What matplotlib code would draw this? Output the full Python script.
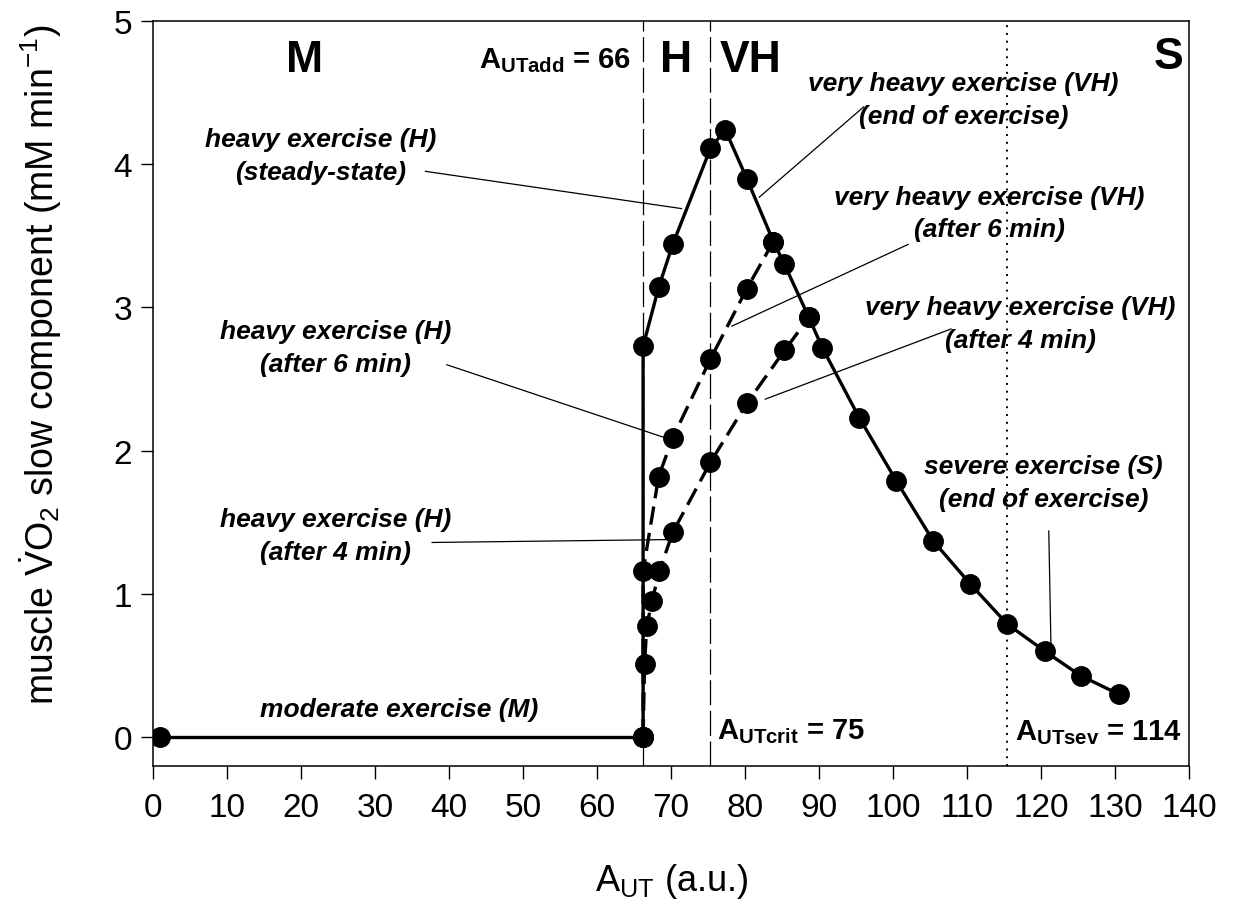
import matplotlib
matplotlib.use("Agg")
import matplotlib.pyplot as plt

plt.rcParams['font.family'] = ['Liberation Sans', 'DejaVu Sans']
plt.rcParams['mathtext.fontset'] = 'custom'
plt.rcParams['mathtext.rm'] = 'Liberation Sans'
plt.rcParams['mathtext.it'] = 'Liberation Sans:italic'
plt.rcParams['mathtext.bf'] = 'Liberation Sans:bold'

# ---- data ----
moderate_x = [1, 66.2]
moderate_y = [0, 0]

steady_x = [66.2, 66.2, 68.3, 70.2, 75.3, 77.3, 80.2, 83.8, 85.3, 88.6, 90.4,
            95.4, 100.4, 105.4, 110.4, 115.4, 120.5, 125.3, 130.5]
steady_y = [0, 2.73, 3.14, 3.44, 4.11, 4.24, 3.90, 3.46, 3.30, 2.93, 2.72,
            2.23, 1.79, 1.37, 1.07, 0.79, 0.60, 0.43, 0.30]

after6_x = [66.2, 66.2, 68.3, 70.2, 75.3, 80.2, 83.8]
after6_y = [0, 1.16, 1.82, 2.09, 2.64, 3.13, 3.46]

after4_x = [66.2, 66.4, 66.7, 67.4, 68.4, 70.2, 75.3, 80.2, 85.3, 88.6]
after4_y = [0, 0.51, 0.78, 0.95, 1.16, 1.43, 1.92, 2.33, 2.70, 2.93]

thresholds_x = [66.2, 75.3, 115.3]
x_ticks = list(range(0, 141, 10))
y_ticks = [0, 1, 2, 3, 4, 5]

fig = plt.figure(figsize=(12.39, 9.12), dpi=100)
ax = fig.add_axes([0.1235, 0.159, 0.8365, 0.817])
ax.set_xlim(0, 140)
ax.set_ylim(-0.2, 5)

ax.axvline(thresholds_x[0], color='black', lw=0.9, ls=(0, (20, 4.5)))
ax.axvline(thresholds_x[1], color='black', lw=0.9, ls=(0, (20, 4.5)))
ax.axvline(thresholds_x[2], color='black', lw=1.4, ls=(0, (1, 3)))

ms = 14
ax.plot(moderate_x, moderate_y, color='black', lw=2.4, marker='o', ms=ms)
ax.plot(steady_x, steady_y, color='black', lw=2.4, marker='o', ms=ms)
ax.plot(after6_x, after6_y, color='black', lw=2.4, marker='o', ms=ms, ls=(0, (5.5, 2.5)))
ax.plot(after4_x, after4_y, color='black', lw=2.4, marker='o', ms=ms, ls=(0, (5.5, 2.5)))

ax.set_xticks(x_ticks)
ax.set_yticks(y_ticks)
ax.tick_params(direction='out', length=9, width=1, labelsize=24)
ax.tick_params(axis='x', pad=10)
ax.tick_params(axis='y', pad=6)
for s in ax.spines.values():
    s.set_linewidth(1.1)

ax.set_xlabel(r'A$_{\mathrm{UT}}$ (a.u.)', fontsize=26)
ax.xaxis.set_label_coords(0.5, -0.128)
ax.set_ylabel(r'muscle $\dot{\mathrm{V}}\mathrm{O}_2$ slow component (mM min$^{-1}$)',
              fontsize=27)
ax.yaxis.set_label_coords(-0.086, 0.54)

bold = dict(fontweight='bold', color='black')
ax.text(20.5, 4.73, 'M', fontsize=32, ha='center', va='center', **bold)
ax.text(70.6, 4.73, 'H', fontsize=32, ha='center', va='center', **bold)
ax.text(80.7, 4.73, 'VH', fontsize=32, ha='center', va='center', **bold)
ax.text(137.2, 4.75, 'S', fontsize=32, ha='center', va='center', **bold)
ax.text(64.6, 4.73, r'A$_{\mathbf{UTadd}}$ = 66', fontsize=21, ha='right', va='center', **bold)
ax.text(76.2, 0.05, r'A$_{\mathbf{UTcrit}}$ = 75', fontsize=21, ha='left', va='center', **bold)
ax.text(116.5, 0.04, r'A$_{\mathbf{UTsev}}$ = 114', fontsize=21, ha='left', va='center', **bold)

note = dict(fontsize=19, fontweight='bold', style='italic', ha='center', va='center',
            linespacing=1.45)
ax.text(22.6, 4.06, 'heavy exercise (H)\n(steady-state)', **note)
ax.text(24.6, 2.72, 'heavy exercise (H)\n(after 6 min)', **note)
ax.text(24.6, 1.41, 'heavy exercise (H)\n(after 4 min)', **note)
ax.text(33.2, 0.20, 'moderate exercise (M)', **note)
ax.text(109.5, 4.45, 'very heavy exercise (VH)\n(end of exercise)', **note)
ax.text(113.0, 3.66, 'very heavy exercise (VH)\n(after 6 min)', **note)
ax.text(117.2, 2.89, 'very heavy exercise (VH)\n(after 4 min)', **note)
ax.text(120.3, 1.78, 'severe exercise (S)\n(end of exercise)', **note)

# leader lines
leaders = [
    ((36.8, 3.95), (71.4, 3.69)),
    ((39.7, 2.60), (69.2, 2.09)),
    ((37.7, 1.36), (69.6, 1.38)),
    ((96.0, 4.40), (81.9, 3.77)),
    ((102.0, 3.44), (78.2, 2.87)),
    ((107.8, 2.85), (82.7, 2.36)),
    ((121.0, 1.44), (121.3, 0.62)),
]
for (x0, y0), (x1, y1) in leaders:
    ax.plot([x0, x1], [y0, y1], color='black', lw=0.9)

fig.savefig('out.png', dpi=100)
